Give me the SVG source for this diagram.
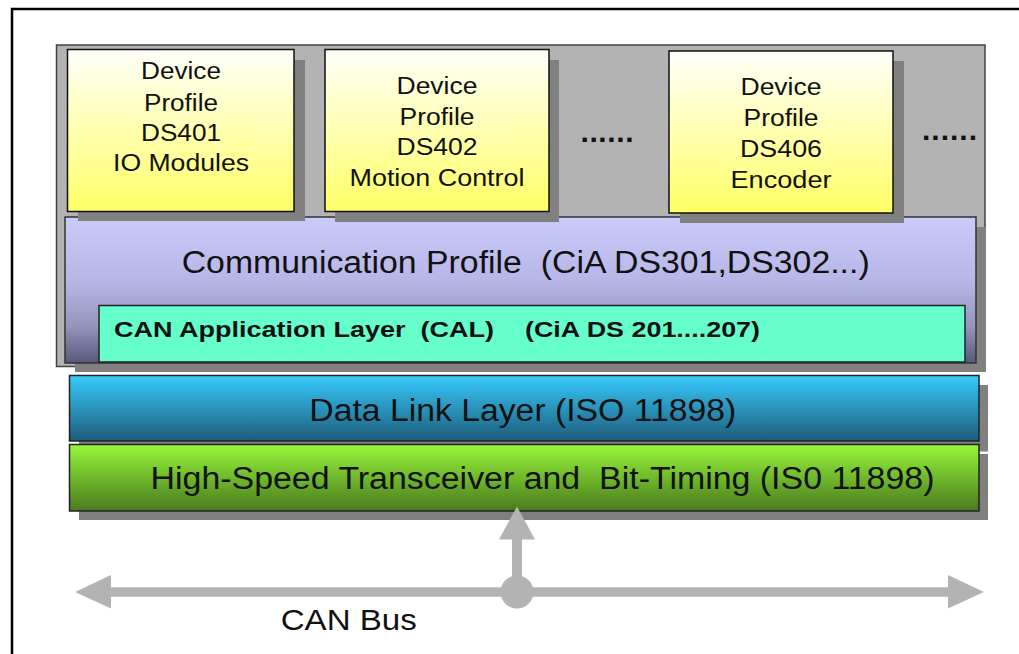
<svg xmlns="http://www.w3.org/2000/svg" width="1019" height="654" viewBox="0 0 1019 654">
<defs>
<linearGradient id="gY" x1="0" y1="0" x2="0" y2="1"><stop offset="0" stop-color="#fffffb"/><stop offset="1" stop-color="#ffff66"/></linearGradient>
<linearGradient id="gC" x1="0" y1="0" x2="0" y2="1"><stop offset="0" stop-color="#cacafb"/><stop offset="0.45" stop-color="#b6b6e6"/><stop offset="0.75" stop-color="#9494bc"/><stop offset="1" stop-color="#58587a"/></linearGradient>
<linearGradient id="gB" x1="0" y1="0" x2="0" y2="1"><stop offset="0" stop-color="#36cafc"/><stop offset="1" stop-color="#1d5c7b"/></linearGradient>
<linearGradient id="gG" x1="0" y1="0" x2="0" y2="1"><stop offset="0" stop-color="#96f73a"/><stop offset="1" stop-color="#4a7a1e"/></linearGradient>
<style>
.sh{fill:#808080}
.dev{fill:url(#gY);stroke:#111;stroke-width:1.5}
.t{font-family:"Liberation Sans",Arial,sans-serif;fill:#111}
.dt{font-size:23px;text-anchor:middle}
.big{font-size:31px;text-anchor:middle}
.b{font-weight:bold}
.ar{fill:#b3b3b3}
</style>
</defs>
<rect width="1019" height="654" fill="#fff"/>
<rect x="12" y="9" width="1020" height="660" fill="none" stroke="#000" stroke-width="2.5"/>

<g id="panel">
<rect x="56.5" y="45" width="928.5" height="321.5" fill="#b3b3b3" stroke="#444" stroke-width="1.5"/>
</g>

<g id="comm">
<rect class="sh" x="75" y="227" width="911" height="145"/>
<rect x="65" y="217" width="911" height="146" fill="url(#gC)" stroke="#333" stroke-width="1.5"/>
<text class="t big" x="525.7" y="272.7" textLength="688" lengthAdjust="spacingAndGlyphs" xml:space="preserve">Communication Profile  (CiA DS301,DS302...)</text>
</g>

<g id="cal">
<rect x="99" y="305.5" width="866" height="56.5" fill="#66ffcc" stroke="#222" stroke-width="1.5"/>
<text class="t b" x="114" y="337" font-size="22.5" textLength="380" lengthAdjust="spacingAndGlyphs" xml:space="preserve">CAN Application Layer  (CAL)</text>
<text class="t b" x="525" y="337" font-size="22.5" textLength="235" lengthAdjust="spacingAndGlyphs">(CiA DS 201....207)</text>
</g>

<g id="ds401">
<rect class="sh" x="78" y="60" width="227" height="161"/>
<rect class="dev" x="67.5" y="49.5" width="226.5" height="162"/>
<text class="t dt" x="181" y="79" textLength="80" lengthAdjust="spacingAndGlyphs">Device</text>
<text class="t dt" x="181" y="110.5" textLength="74" lengthAdjust="spacingAndGlyphs">Profile</text>
<text class="t dt" x="181" y="140.5" textLength="80" lengthAdjust="spacingAndGlyphs">DS401</text>
<text class="t dt" x="181" y="171" textLength="136" lengthAdjust="spacingAndGlyphs">IO Modules</text>
</g>

<g id="ds402">
<rect class="sh" x="335" y="60" width="224" height="162"/>
<rect class="dev" x="325" y="49.5" width="224" height="162"/>
<text class="t dt" x="437" y="93.5" textLength="81" lengthAdjust="spacingAndGlyphs">Device</text>
<text class="t dt" x="437" y="124.5" textLength="75" lengthAdjust="spacingAndGlyphs">Profile</text>
<text class="t dt" x="437" y="155" textLength="81" lengthAdjust="spacingAndGlyphs">DS402</text>
<text class="t dt" x="437" y="186" textLength="175" lengthAdjust="spacingAndGlyphs">Motion Control</text>
</g>

<g id="dots1">
<text class="t b" x="580.5" y="141.5" font-size="30" textLength="53" lengthAdjust="spacing">......</text>
</g>

<g id="ds406">
<rect class="sh" x="680" y="61" width="224" height="162"/>
<rect class="dev" x="669" y="51" width="224" height="162"/>
<text class="t dt" x="781" y="95" textLength="81" lengthAdjust="spacingAndGlyphs">Device</text>
<text class="t dt" x="781" y="126" textLength="75" lengthAdjust="spacingAndGlyphs">Profile</text>
<text class="t dt" x="781" y="156.5" textLength="82" lengthAdjust="spacingAndGlyphs">DS406</text>
<text class="t dt" x="781" y="187.5" textLength="101" lengthAdjust="spacingAndGlyphs">Encoder</text>
</g>

<g id="dots2">
<text class="t b" x="922" y="139.5" font-size="30" textLength="55" lengthAdjust="spacing">......</text>
</g>

<g id="datalink">
<rect class="sh" x="79" y="385" width="909" height="66.5"/>
<rect x="69.5" y="375.5" width="909.5" height="65.5" fill="url(#gB)" stroke="#222" stroke-width="1.5"/>
<text class="t big" x="522.8" y="420.7" textLength="427" lengthAdjust="spacingAndGlyphs">Data Link Layer (ISO 11898)</text>
</g>

<g id="transceiver">
<rect class="sh" x="79" y="454" width="909" height="66"/>
<rect x="69.5" y="444.5" width="909.5" height="66.5" fill="url(#gG)" stroke="#222" stroke-width="1.5"/>
<text class="t big" x="542.5" y="489.3" font-size="30.5" textLength="784" lengthAdjust="spacingAndGlyphs" xml:space="preserve">High-Speed Transceiver and  Bit-Timing (IS0 11898)</text>
</g>

<g id="connectors">
<rect class="ar" x="110" y="587.3" width="839" height="9.5"/>
<polygon class="ar" points="75,592 111,575 111,608.5"/>
<polygon class="ar" points="984,592 948,575 948,608.5"/>
<rect class="ar" x="512" y="538" width="10" height="54"/>
<polygon class="ar" points="517,506.5 499,539.5 535,539.5"/>
<circle class="ar" cx="517" cy="592" r="16.5"/>
</g>

<g id="canbus">
<text class="t" x="280.7" y="630" font-size="30" textLength="136" lengthAdjust="spacingAndGlyphs">CAN Bus</text>
</g>
</svg>
